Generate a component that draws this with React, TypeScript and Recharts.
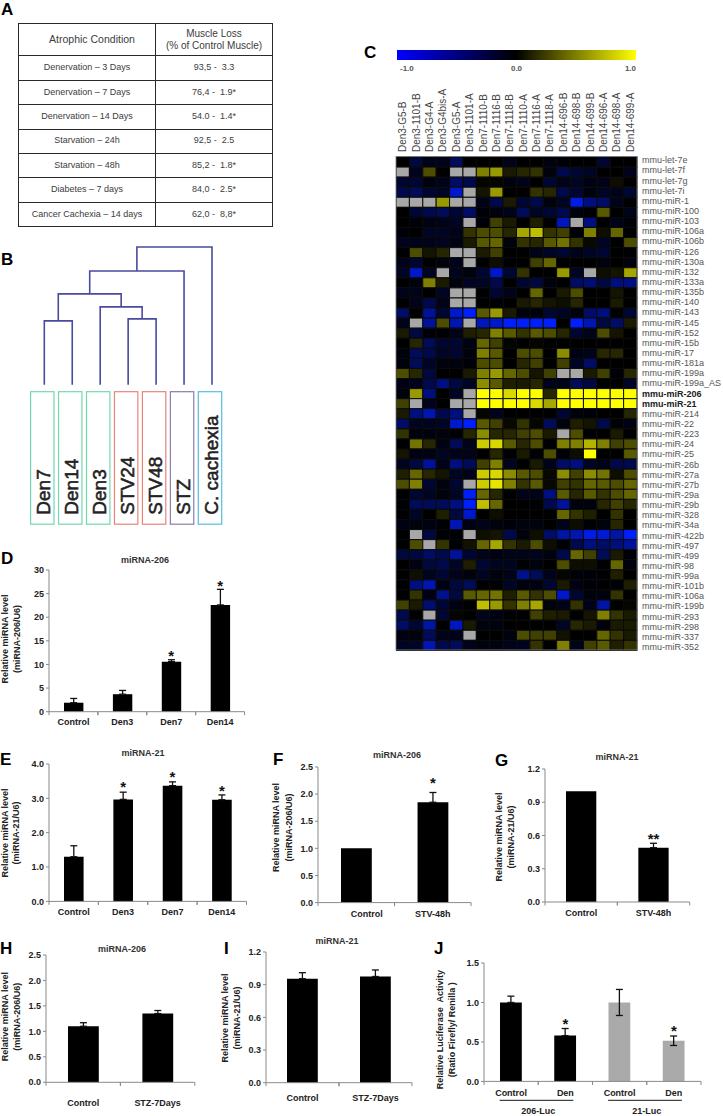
import {
  Bar,
  BarChart,
  Cell,
  ComposedChart,
  ErrorBar,
  Line,
  LineChart,
  Scatter,
  ScatterChart,
  XAxis,
  YAxis,
} from 'recharts';

const FONT = '"Liberation Sans", Arial, sans-serif';

// Panel A
const tableConditions = [
  'Denervation – 3 Days',
  'Denervation – 7 Days',
  'Denervation – 14 Days',
  'Starvation – 24h',
  'Starvation – 48h',
  'Diabetes – 7 days',
  'Cancer Cachexia – 14 days',
];
const tableLoss = ['93,5 -  3.3', '76,4 -  1.9*', '54.0 -  1.4*', '92,5 -  2.5', '85,2 -  1.8*', '84,0 -  2.5*', '62,0 -  8,8*'];

// Panel B
const dendroLeaves = ['Den7', 'Den14', 'Den3', 'STV24', 'STV48', 'STZ', 'C. cachexia'];
const dendroLeafColors = ['#74d8ad', '#74d8ad', '#74d8ad', '#e8837a', '#e8837a', '#8a7bab', '#55bfdc'];
// [left child, right child, height]; child >= 0 is a leaf, child < 0 is an earlier merge (-1 = first)
const dendroMerges = [
  [0, 1, 64],
  [3, 4, 66],
  [2, -2, 78],
  [-1, -3, 91],
  [-4, 5, 114],
  [-5, 6, 138],
];

function buildLinks() {
  const nodes: { x: number; h: number }[] = [];
  const get = (c: number) => (c >= 0 ? { x: c, h: 0 } : nodes[-c - 1]);
  return dendroMerges.map(([l, r, h]) => {
    const a = get(l);
    const b = get(r);
    nodes.push({ x: (a.x + b.x) / 2, h });
    return [
      { x: a.x, y: a.h },
      { x: a.x, y: h },
      { x: b.x, y: h },
      { x: b.x, y: b.h },
    ];
  });
}

// Panel C
const heatSamples = [
  'Den3-G5-B', 'Den3-1101-B', 'Den3-G4-A', 'Den3-G4bis-A', 'Den3-G5-A', 'Den3-1101-A',
  'Den7-1110-B', 'Den7-1116-B', 'Den7-1118-B', 'Den7-1110-A', 'Den7-1116-A', 'Den7-1118-A',
  'Den14-696-B', 'Den14-698-B', 'Den14-699-B', 'Den14-696-A', 'Den14-698-A', 'Den14-699-A',
];
const heatGenes = [
  'mmu-let-7e', 'mmu-let-7f', 'mmu-let-7g', 'mmu-let-7i', 'mmu-miR-1', 'mmu-miR-100', 'mmu-miR-103',
  'mmu-miR-106a', 'mmu-miR-106b', 'mmu-miR-126', 'mmu-miR-130a', 'mmu-miR-132', 'mmu-miR-133a',
  'mmu-miR-135b', 'mmu-miR-140', 'mmu-miR-143', 'mmu-miR-145', 'mmu-miR-152', 'mmu-miR-15b', 'mmu-miR-17',
  'mmu-miR-181a', 'mmu-miR-199a', 'mmu-miR-199a_AS', 'mmu-miR-206', 'mmu-miR-21', 'mmu-miR-214',
  'mmu-miR-22', 'mmu-miR-223', 'mmu-miR-24', 'mmu-miR-25', 'mmu-miR-26b', 'mmu-miR-27a', 'mmu-miR-27b',
  'mmu-miR-29a', 'mmu-miR-29b', 'mmu-miR-328', 'mmu-miR-34a', 'mmu-miR-422b', 'mmu-miR-497', 'mmu-miR-499',
  'mmu-miR-98', 'mmu-miR-99a', 'mmu-miR-101b', 'mmu-miR-106a', 'mmu-miR-199b', 'mmu-miR-293', 'mmu-miR-298',
  'mmu-miR-337', 'mmu-miR-352',
];
const boldGenes = ['mmu-miR-206', 'mmu-miR-21'];
const N = null;
const heatValues: (number | null)[][] = [
  [0, -.25, -.1, -.1, -.35, 0, 0, 0, -.1, 0, 0, -.05, -.03, 0, 0, -.2, 0, 0],
  [N, -.1, .3, 0, N, N, .5, .6, .1, .15, .2, -.05, -.3, -.2, -.15, 0, 0, -.1],
  [-.2, -.2, -.05, -.1, -.4, -.3, .02, .02, -.05, -.1, 0, -.2, -.1, -.15, -.08, -.1, .05, 0],
  [-.3, -.35, -.2, -.15, -.8, N, .08, .6, 0, 0, .2, .15, -.3, -.2, -.05, -.15, -.1, -.2],
  [N, N, N, .6, N, N, -.1, -.3, .1, -.2, -.3, -.05, -.15, -.9, -.5, -.4, -.1, -.02],
  [0, -.2, -.3, -.35, -.2, -.4, -.03, -.05, -.1, -.35, -.15, -.2, -.3, -.05, 0, .35, 0, -.1],
  [0, -.03, -.08, -.1, -.15, N, -.03, .25, .1, 0, .12, -.02, -.75, N, -.5, 0, -.1, -.03],
  [-.03, 0, -.15, -.15, -.1, .2, .3, .3, .15, .65, .75, .2, .25, -.02, .5, .05, .4, 0],
  [-.12, -.1, -.1, -.12, -.08, .1, .35, .4, -.05, .2, .15, .35, .45, .2, .03, -.15, 0, .3],
  [0, .3, .08, .15, N, N, .1, .25, 0, 0, -.1, -.15, -.2, -.1, -.15, -.2, 0, 0],
  [-.1, -.2, 0, -.05, -.1, N, 0, .05, 0, 0, .25, .4, 0, 0, 0, -.05, 0, -.05],
  [-.15, -.8, -.15, N, -.12, -.05, -.2, -.8, -.2, .2, 0, 0, .6, -.15, N, .05, .08, .65],
  [0, -.05, .5, .1, -.05, -.15, -.15, -.3, 0, -.2, -.25, -.05, 0, -.4, -.45, -.25, -.5, -.5],
  [-.1, -.1, 0, -.15, N, N, -.02, -.2, -.1, 0, .4, 0, .1, .3, 0, 0, .08, 0],
  [0, -.1, -.3, -.1, N, N, 0, -.02, 0, .1, .15, .08, .05, .15, 0, 0, .1, 0],
  [-.4, 0, -.6, -.2, -.8, -1, .35, .6, .1, -.05, -.05, -.2, -.15, -.05, -.4, -.5, -.02, -.2],
  [-.1, N, -.6, .3, -.7, N, -.75, -.8, -1, -1, -1, -1, 0, -1, -.7, -.25, -.4, .1],
  [.1, -.25, -.03, 0, -.1, .12, .15, .5, .35, .2, .35, .3, .15, -.2, -.1, .3, .08, 0],
  [0, .15, -.35, -.2, -.2, -.08, .4, .25, .02, 0, .02, 0, 0, 0, 0, 0, 0, 0],
  [-.05, -.35, -.3, -.15, -.2, -.05, .5, .35, 0, .3, .3, 0, .55, -.08, -.1, .15, .15, 0],
  [-.05, -.35, -.15, -.05, -.05, -.03, .3, .3, 0, .15, .25, 0, .25, -.15, -.4, 0, 0, 0],
  [.3, .15, -.25, 0, 0, .1, .5, .6, .4, .3, .08, .25, N, N, .1, .25, -.03, .15],
  [-.08, -.1, -.3, -.5, -.25, -.15, .55, .35, .12, .1, .15, -.1, -.1, -.35, -.25, 0, 0, -.15],
  [-.05, .6, -.5, 0, -.15, N, 1, 1, .85, 1, 1, .15, 1, 1, 1, 1, 1, 1],
  [.25, N, -.1, 0, N, N, 1, 1, 1, 1, .85, .65, 1, 1, 1, 1, 1, 1],
  [.1, -.5, -.7, -.3, -.5, N, .02, -.12, 0, 0, 0, 0, -.2, -.05, -.03, 0, 0, .15],
  [-.4, -.12, -.12, -.15, -.8, -1, .35, .25, .03, .2, .02, -.35, -.05, .12, .08, -.3, -.02, -.08],
  [.2, -.05, -.05, -.05, -.02, .15, .55, .15, .15, .25, .3, .1, N, .3, -.02, 0, .1, 0],
  [0, .45, .15, -.08, -.35, -.1, .8, .85, .35, .15, .3, 0, .5, .5, .7, .5, .25, .3],
  [.08, -.08, -.08, -.15, -.1, -.1, 0, .15, -.02, .1, -.02, .3, -.03, .05, 1, 0, 0, .35],
  [-.12, -.25, -.6, -.1, -.5, -.35, .25, .5, -.12, 0, .1, -.1, -.4, -.5, -.15, -.1, -.3, -.3],
  [.12, .4, .15, .08, -.15, -.1, .8, .85, .55, .35, .3, .03, .55, .25, .55, .45, .05, .3],
  [.3, .5, -.2, -.05, -.2, N, .8, .9, .5, .2, .35, .03, .25, .2, .4, .35, .3, .4],
  [0, -.2, -.15, -.05, -.15, -1, .4, .15, 0, -.1, -.1, -.5, .35, .15, .35, .2, .3, .4],
  [-.02, -.35, -.35, -.35, -.5, -1, .75, .4, 0, 0, -.02, -.3, -.6, -.05, -.05, .15, .25, .15],
  [-.02, -.15, 0, .12, -.25, -.8, 0, .05, 0, 0, 0, 0, .4, .2, .12, 0, .2, 0],
  [-.08, -.05, -.08, -.02, -.7, -.08, -.1, -.05, -.03, -.05, -.05, 0, -.1, .05, -.02, -.05, .15, 0],
  [0, N, -.25, -.02, -.02, N, .06, .08, -.3, -.05, .06, -.4, -.65, -.7, -.9, -.85, -.65, -1],
  [0, .3, N, .2, -.02, .07, .4, .65, .2, .1, .3, .05, -.02, -.3, -.5, -.4, -.5, -.6],
  [-.25, -.25, -.4, -.3, -.6, -.2, -.1, -.08, -.1, -.1, -.12, -.05, -.3, .4, .25, -.35, .1, -.02],
  [0, -.08, -.25, -.3, -.15, .12, -.2, -.12, -.12, -.02, -.05, 0, .3, .05, .05, -.02, .4, -.05],
  [0, .06, -.12, -.2, -.1, -.05, -.15, -.05, -.1, -.55, -.35, -.1, .02, -.03, -.03, -.02, .12, 0],
  [0, -.5, -.7, -.08, -.25, -.35, 0, -.02, -.15, -.05, -.08, -.2, .1, -.08, -.03, 0, -.02, .12],
  [0, .2, -.08, -.55, -.25, .35, .4, .45, .12, .35, .2, .3, -.8, -.2, -.05, -.05, .2, 0],
  [.25, .1, -.45, -.2, -.08, 0, .75, .6, .2, .5, .65, -.05, -.1, .2, -.1, -.65, 0, .02],
  [-.3, 0, N, -.2, .02, 0, -.12, -.08, 0, 0, .25, .12, .1, 0, .08, .5, .2, .1],
  [-.4, -.2, -.65, 0, -.75, .1, -.05, -.05, 0, 0, 0, 0, -.15, .15, .1, -.05, .1, .1],
  [-.08, -.05, -.35, -.1, -.1, N, 0, 0, -.05, .3, .25, .25, .07, 0, 0, .4, .2, .1],
  [-.15, -.15, -.7, -.3, -.35, -.1, -.05, -.05, -.1, -.12, .2, 0, .5, -.1, .25, .35, .12, .2],
];
const colorbarTicks = [-1, 0, 1];

// Panels D-J
const dCats = ['Control', 'Den3', 'Den7', 'Den14'];
const dValues = [1.9, 3.7, 10.6, 22.6];
const dErr = [0.9, 0.8, 0.4, 3.3];
const dStarAt = [null, null, 12.5, 27.5];
const dStars = ['', '', '*', '*'];
const dTicks = [0, 5, 10, 15, 20, 25, 30];

const eCats = ['Control', 'Den3', 'Den7', 'Den14'];
const eValues = [1.3, 2.97, 3.37, 2.96];
const eErr = [0.32, 0.21, 0.11, 0.14];
const eStarAt = [null, 3.45, 3.74, 3.32];
const eStars = ['', '*', '*', '*'];
const eTicks = [0, 1, 2, 3, 4];

const fCats = ['Control', 'STV-48h'];
const fValues = [1.0, 1.85];
const fErr = [0, 0.18];
const fStarAt = [null, 2.27];
const fStars = ['', '*'];
const fTicks = [0, 0.5, 1, 1.5, 2, 2.5];

const gCats = ['Control', 'STV-48h'];
const gValues = [1.0, 0.49];
const gErr = [0, 0.04];
const gStarAt = [null, 0.6];
const gStars = ['', '**'];
const gTicks = [0, 0.3, 0.6, 0.9, 1.2];

const hCats = ['Control', 'STZ-7Days'];
const hValues = [1.1, 1.35];
const hErr = [0.07, 0.06];
const hTicks = [0, 0.5, 1, 1.5, 2, 2.5];

const iCats = ['Control', 'STZ-7Days'];
const iValues = [0.955, 0.975];
const iErr = [0.055, 0.06];
const iTicks = [0, 0.3, 0.6, 0.9, 1.2];

const jCats = ['Control', 'Den', 'Control', 'Den'];
const jValues = [1.0, 0.58, 1.0, 0.515];
const jErrUp = [0.08, 0.09, 0.165, 0.06];
const jErrDown = [0, 0, 0.165, 0.06];
const jStarAt = [null, 0.77, null, 0.685];
const jStars = ['', '*', '', '*'];
const jBarColors = ['#000', '#000', '#aaa', '#aaa'];
const jGroups = ['206-Luc', '21-Luc'];
const jTicks = [0, 0.5, 1, 1.5];

const AXIS = '#8a8a8a';

interface PanelProps {
  x0: number;
  x1: number;
  yTop: number;
  y0: number;
  cats: string[];
  values: number[];
  errUp: number[];
  errDown?: number[];
  starAt?: (number | null)[];
  stars?: string[];
  ticks: number[];
  decimals: number;
  barW: number;
  labelDy: number;
  labelShift?: number[];
  barColors?: string[];
  groups?: string[];
}

function BarPanel(p: PanelProps) {
  const data = p.cats.map((name, i) => {
    const up = p.errUp[i];
    const down = p.errDown ? p.errDown[i] : 0;
    return {
      name,
      value: p.values[i],
      // no whisker at all where the picture shows none
      err: up === 0 && down === 0 ? null : [down, up],
      star: p.starAt ? p.starAt[i] : null,
      starText: p.stars ? p.stars[i] : '',
    };
  });
  const step = (p.x1 - p.x0) / p.cats.length;
  const left = 40;
  const plotH = p.y0 - p.yTop;

  const renderTick = (t: any) => {
    const i = t.index;
    const label = p.cats[i];
    const shift = p.labelShift ? p.labelShift[i] : 0;
    const axisY = 5 + plotH;
    return (
      <g key={i}>
        <line x1={t.x - step / 2} x2={t.x - step / 2} y1={axisY} y2={axisY + 3.5} stroke={AXIS} />
        <line x1={t.x + step / 2} x2={t.x + step / 2} y1={axisY} y2={axisY + 3.5} stroke={AXIS} />
        <text
          x={t.x + shift}
          y={axisY + p.labelDy + 3}
          textAnchor="middle"
          fontFamily={FONT}
          fontSize={9}
          fontWeight="bold"
          fill="#222"
        >
          {label}
        </text>
        {p.groups && i % 2 === 1 && (
          <>
            <line x1={t.x - step - 11.5} x2={t.x + 8} y1={axisY + 19} y2={axisY + 19} stroke="#444" strokeWidth={1.2} />
            <text
              x={t.x - step / 2}
              y={axisY + 32.5}
              textAnchor="middle"
              fontFamily={FONT}
              fontSize={9}
              fontWeight="bold"
              fill="#222"
            >
              {p.groups[(i - 1) / 2]}
            </text>
          </>
        )}
      </g>
    );
  };

  const renderStar = (d: any) => {
    if (d.payload.star == null || d.cy == null) return <g key={d.index} />;
    return (
      <text
        key={d.index}
        x={d.cx}
        y={d.cy + 8.7}
        textAnchor="middle"
        fontFamily={FONT}
        fontSize={15}
        fontWeight="bold"
        fill="#111"
      >
        {d.payload.starText}
      </text>
    );
  };

  return (
    <div style={{ position: 'absolute', left: p.x0 - left, top: p.yTop - 5 }}>
      <ComposedChart
        width={p.x1 - p.x0 + left + 6}
        height={plotH + 5 + 45}
        data={data}
        margin={{ top: 5, right: 6, bottom: 0, left: 0 }}
      >
        <XAxis
          dataKey="name"
          height={45}
          axisLine={{ stroke: AXIS }}
          tickLine={false}
          interval={0}
          tick={renderTick}
        />
        <YAxis
          width={left}
          domain={[0, p.ticks[p.ticks.length - 1]]}
          ticks={p.ticks}
          interval={0}
          axisLine={{ stroke: AXIS }}
          tickLine={{ stroke: AXIS }}
          tickSize={3}
          tickMargin={2}
          tickFormatter={(v: number) => v.toFixed(p.decimals)}
          tick={{ fontFamily: FONT, fontSize: 9, fontWeight: 'bold', fill: '#222' }}
        />
        <Bar dataKey="value" barSize={p.barW} isAnimationActive={false}>
          {data.map((_, i) => (
            <Cell key={i} fill={p.barColors ? p.barColors[i] : '#000'} />
          ))}
          <ErrorBar dataKey="err" direction="y" width={3.5} stroke="#111" strokeWidth={1.3} isAnimationActive={false} />
        </Bar>
        {p.starAt && (
          <Line dataKey="star" stroke="none" dot={renderStar} activeDot={false} isAnimationActive={false} />
        )}
      </ComposedChart>
    </div>
  );
}

function Table() {
  const border = '1.3px solid #2a2a2a';
  const cell = { border, textAlign: 'center' as const, padding: 0, color: '#3c3c3c', fontSize: 9 };
  return (
    <table
      style={{
        position: 'absolute',
        left: 18,
        top: 23,
        width: 254,
        height: 204,
        borderCollapse: 'collapse',
        tableLayout: 'fixed',
        fontFamily: FONT,
        lineHeight: '11.5px',
      }}
    >
      <colgroup>
        <col style={{ width: 137 }} />
        <col style={{ width: 117 }} />
      </colgroup>
      <tbody>
        <tr style={{ height: 32.4 }}>
          <td style={{ ...cell, fontSize: 10.5, paddingLeft: 10 }}>Atrophic Condition</td>
          <td style={{ ...cell, fontSize: 10 }}>
            Muscle Loss
            <br />
            (% of Control Muscle)
          </td>
        </tr>
        {tableConditions.map((c, i) => (
          <tr key={c} style={{ height: 24.3 }}>
            <td style={cell}>{c}</td>
            <td style={{ ...cell, whiteSpace: 'pre' }}>{tableLoss[i]}</td>
          </tr>
        ))}
      </tbody>
    </table>
  );
}

function Dendrogram() {
  const links = buildLinks();
  const renderLeaf = (t: any) => {
    const i = t.payload.value;
    const bx = t.x - 13.7;
    const by = 5 + 137.7 + 7;
    return (
      <g key={i}>
        <rect x={bx} y={by} width={23.4} height={132.5} fill="#fff" stroke={dendroLeafColors[i]} strokeWidth={1.2} />
        <text
          transform={`translate(${t.x + 6},${by + 123}) rotate(-90)`}
          fontFamily={FONT}
          fontSize={19}
          fill="#222"
          stroke="#222"
          strokeWidth={0.55}
        >
          {dendroLeaves[i]}
        </text>
      </g>
    );
  };
  return (
    <div style={{ position: 'absolute', left: 20, top: 242.3 }}>
      <LineChart width={216} height={288} margin={{ top: 5, right: 24, bottom: 0, left: 24.3 }}>
        <XAxis
          type="number"
          dataKey="x"
          domain={[0, 6]}
          ticks={[0, 1, 2, 3, 4, 5, 6]}
          interval={0}
          height={145.3}
          axisLine={false}
          tickLine={false}
          tick={renderLeaf}
        />
        <YAxis type="number" domain={[0, 138]} hide />
        {links.map((pts, i) => (
          <Line
            key={i}
            data={pts}
            dataKey="y"
            type="linear"
            stroke="#4a4a9e"
            strokeWidth={1.6}
            dot={false}
            isAnimationActive={false}
          />
        ))}
      </LineChart>
    </div>
  );
}

function heatColor(v: number | null) {
  if (v === null) return '#a8a8a8';
  const c = Math.round(255 * Math.abs(v));
  if (v < 0) return `rgb(0,${Math.round(c * 0.12)},${c})`;
  return `rgb(${c},${c},0)`;
}

function Heatmap() {
  const cells = heatValues.flatMap((row, r) => row.map((v, c) => ({ col: c, row: r, v })));
  const cw = 241 / 18;
  const ch = 493.4 / 49;
  const topH = 74;
  const renderCell = (s: any) => (
    <rect
      x={s.cx - cw / 2}
      y={s.cy - ch / 2}
      width={cw}
      height={ch}
      fill={heatColor(s.payload.v)}
      stroke="#0a0a0a"
      strokeWidth={1}
    />
  );
  const renderSample = (t: any) => (
    <text
      key={t.payload.value}
      transform={`translate(${t.x + 3.5},${topH - 5}) rotate(-90)`}
      fontFamily={FONT}
      fontSize={10}
      fill="#444"
    >
      {heatSamples[t.payload.value]}
    </text>
  );
  const renderGene = (t: any) => {
    const i = t.payload.value;
    const name = heatGenes[i];
    return (
      <text
        key={i}
        x={t.x}
        y={t.y + 3 + (i - 24) * 0.07}
        fontFamily={FONT}
        fontSize={9}
        fontWeight={boldGenes.includes(name) ? 'bold' : 'normal'}
        fill={boldGenes.includes(name) ? '#222' : '#555'}
      >
        {name}
      </text>
    );
  };
  return (
    <div style={{ position: 'absolute', left: 396, top: 156.5 - topH }}>
      <ScatterChart width={327} height={topH + 493.4 + 8} margin={{ top: 0, right: 0, bottom: 8, left: 0 }}>
        <XAxis
          type="number"
          dataKey="col"
          orientation="top"
          domain={[-0.5, 17.5]}
          ticks={heatSamples.map((_, i) => i)}
          interval={0}
          height={topH}
          axisLine={false}
          tickLine={false}
          tick={renderSample}
        />
        <YAxis
          type="number"
          dataKey="row"
          orientation="right"
          reversed
          domain={[-0.5, 48.5]}
          ticks={heatGenes.map((_, i) => i)}
          interval={0}
          width={86}
          axisLine={false}
          tickLine={false}
          tickMargin={5}
          tickSize={0}
          tick={renderGene}
        />
        <Scatter data={cells} shape={renderCell} isAnimationActive={false} />
      </ScatterChart>
    </div>
  );
}

function Colorbar() {
  const renderTick = (t: any) => {
    const v = t.payload.value;
    const anchor = v < 0 ? 'start' : v > 0 ? 'end' : 'middle';
    return (
      <text
        key={v}
        x={t.x + (v < 0 ? 3 : 0)}
        y={13.5}
        dy={7}
        textAnchor={anchor}
        fontFamily={FONT}
        fontSize={8}
        fontWeight="bold"
        fill="#555"
      >
        {v.toFixed(1)}
      </text>
    );
  };
  return (
    <div style={{ position: 'absolute', left: 397, top: 50 }}>
      <BarChart
        layout="vertical"
        width={239}
        height={30}
        data={[{ name: 'scale', range: [-1, 1] }]}
        margin={{ top: 0, right: 0, bottom: 0, left: 0 }}
        barCategoryGap={0}
      >
        <defs>
          <linearGradient id="cbar" x1="0" x2="1" y1="0" y2="0">
            <stop offset="0" stopColor="#0000ff" />
            <stop offset="0.5" stopColor="#000" />
            <stop offset="1" stopColor="#ffff00" />
          </linearGradient>
        </defs>
        <XAxis
          type="number"
          domain={[-1, 1]}
          ticks={colorbarTicks}
          interval={0}
          height={20}
          axisLine={false}
          tickLine={false}
          tick={renderTick}
        />
        <YAxis type="category" dataKey="name" hide />
        <Bar dataKey="range" fill="url(#cbar)" isAnimationActive={false} />
      </BarChart>
    </div>
  );
}

function Letter({ x, y, s }: { x: number; y: number; s: string }) {
  return (
    <text x={x} y={y} fontFamily={FONT} fontSize={17} fontWeight="bold" fill="#000">
      {s}
    </text>
  );
}

function Title({ x, y, s }: { x: number; y: number; s: string }) {
  return (
    <text x={x} y={y + 3} textAnchor="middle" fontFamily={FONT} fontSize={9} fontWeight="bold" fill="#333">
      {s}
    </text>
  );
}

function AxisTitle({ x, y, s }: { x: number; y: number; s: string }) {
  return (
    <text
      transform={`translate(${x + 3},${y}) rotate(-90)`}
      textAnchor="middle"
      fontFamily={FONT}
      fontSize={9}
      fontWeight="bold"
      fill="#222"
      xmlSpace="preserve"
    >
      {s}
    </text>
  );
}

export default function App() {
  return (
    <div style={{ position: 'absolute', left: 0, top: 0, width: 723, height: 1116, background: '#fff', overflow: 'hidden' }}>
      <Table />
      <Dendrogram />
      <Colorbar />
      <Heatmap />
      <BarPanel x0={48.7} x1={244.3} yTop={570.3} y0={712} cats={dCats} values={dValues} errUp={dErr}
        starAt={dStarAt} stars={dStars} ticks={dTicks} decimals={0} barW={19.4} labelDy={10.7} />
      <BarPanel x0={49} x1={246.5} yTop={764.3} y0={901.7} cats={eCats} values={eValues} errUp={eErr}
        starAt={eStarAt} stars={eStars} ticks={eTicks} decimals={1} barW={19.6} labelDy={11} />
      <BarPanel x0={317.5} x1={470.6} yTop={766.7} y0={902.3} cats={fCats} values={fValues} errUp={fErr}
        starAt={fStarAt} stars={fStars} ticks={fTicks} decimals={1} barW={30.8} labelDy={11.4} labelShift={[10.5, 0]} />
      <BarPanel x0={545.3} x1={690} yTop={768.7} y0={901.7} cats={gCats} values={gValues} errUp={gErr}
        starAt={gStarAt} stars={gStars} ticks={gTicks} decimals={1} barW={30.3} labelDy={11.3} />
      <BarPanel x0={46.2} x1={195} yTop={955} y0={1082.3} cats={hCats} values={hValues} errUp={hErr}
        ticks={hTicks} decimals={1} barW={30.8} labelDy={21} />
      <BarPanel x0={266} x1={412} yTop={952.3} y0={1083} cats={iCats} values={iValues} errUp={iErr}
        ticks={iTicks} decimals={1} barW={30.8} labelDy={15.3} />
      <BarPanel x0={484} x1={701} yTop={963.3} y0={1081.7} cats={jCats} values={jValues} errUp={jErrUp} errDown={jErrDown}
        starAt={jStarAt} stars={jStars} ticks={jTicks} decimals={1} barW={21.8} labelDy={11.6} barColors={jBarColors} groups={jGroups} />
      <svg width={723} height={1116} style={{ position: 'absolute', left: 0, top: 0, pointerEvents: 'none' }}>
        <rect x={396} y={156.5} width={241} height={493.4} fill="none" stroke="#777" strokeWidth={0.8} />
        <Letter x={1} y={14.5} s="A" />
        <Letter x={1} y={264.5} s="B" />
        <Letter x={364} y={58} s="C" />
        <Letter x={1} y={563.5} s="D" />
        <Letter x={0} y={765} s="E" />
        <Letter x={273} y={765} s="F" />
        <Letter x={495} y={766} s="G" />
        <Letter x={0} y={954} s="H" />
        <Letter x={224} y={954} s="I" />
        <Letter x={434} y={954} s="J" />
        <Title x={145} y={560} s="miRNA-206" />
        <Title x={143} y={753} s="miRNA-21" />
        <Title x={397} y={755} s="miRNA-206" />
        <Title x={617} y={757} s="miRNA-21" />
        <Title x={122} y={949} s="miRNA-206" />
        <Title x={337} y={941} s="miRNA-21" />
        <AxisTitle x={5} y={639} s="Relative miRNA level" />
        <AxisTitle x={17} y={639} s="(miRNA-206/U6)" />
        <AxisTitle x={5} y={833} s="Relative miRNA level" />
        <AxisTitle x={16} y={833} s="(miRNA-21/U6)" />
        <AxisTitle x={276.4} y={827.5} s="Relative miRNA level" />
        <AxisTitle x={288.5} y={827.5} s="(miRNA-206/U6)" />
        <AxisTitle x={498.6} y={837} s="Relative miRNA level" />
        <AxisTitle x={511} y={837} s="(miRNA-21/U6)" />
        <AxisTitle x={4.7} y={1016.7} s="Relative miRNA level" />
        <AxisTitle x={17} y={1016.7} s="(miRNA-206/U6)" />
        <AxisTitle x={224.6} y={1018} s="Relative miRNA level" />
        <AxisTitle x={236.7} y={1018} s="(miRNA-21/U6)" />
        <AxisTitle x={440} y={1029.7} s="Relative Luciferase  Activity" />
        <AxisTitle x={452} y={1029.7} s="(Ratio Firefly/ Renilla )" />
      </svg>
    </div>
  );
}
